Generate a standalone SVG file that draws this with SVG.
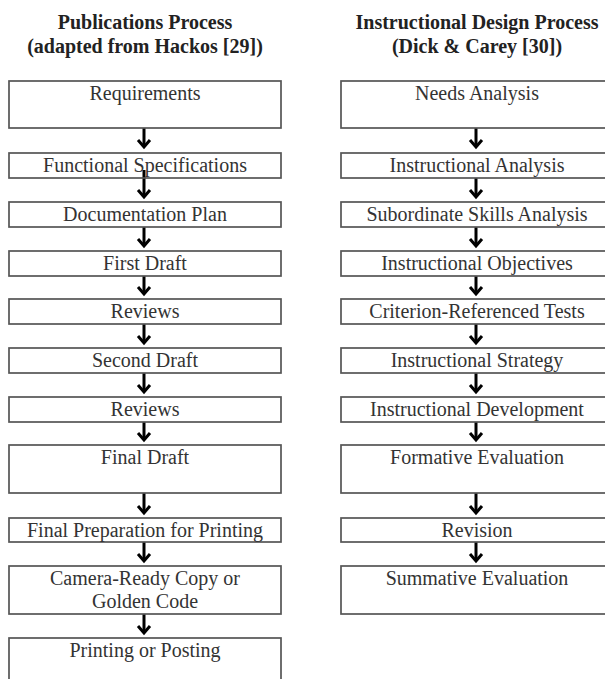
<svg xmlns="http://www.w3.org/2000/svg" width="605" height="679" viewBox="0 0 605 679">
<style>
.bx{fill:#fff;stroke:#555;stroke-width:1.7}
.t{font-family:"Liberation Serif","Times New Roman",serif;font-size:20px;fill:#333;text-anchor:middle}
.h{font-family:"Liberation Serif","Times New Roman",serif;font-size:20px;font-weight:bold;fill:#222;text-anchor:middle}
.ar{stroke:#000;stroke-width:3;fill:none}
</style>
<defs>
<marker id="ah" markerUnits="userSpaceOnUse" viewBox="-10 -8 13 16" refX="0" refY="0" markerWidth="13" markerHeight="16" orient="auto">
<path d="M-7,-6 L0,0 L-7,6" fill="none" stroke="#000" stroke-width="3"/>
</marker>
</defs>
<rect width="605" height="679" fill="#fff"/>
<g id="titles">
<text class="h" x="145" y="29">Publications Process</text>
<text class="h" x="145" y="53">(adapted from Hackos [29])</text>
<text class="h" x="477" y="29">Instructional Design Process</text>
<text class="h" x="477" y="53">(Dick &amp; Carey [30])</text>
</g>
<g id="connectors">
<line class="ar" x1="144" y1="128" x2="144" y2="147" marker-end="url(#ah)"/>
<line class="ar" x1="144" y1="170" x2="144" y2="197" marker-end="url(#ah)"/>
<line class="ar" x1="144" y1="220" x2="144" y2="246" marker-end="url(#ah)"/>
<line class="ar" x1="144" y1="269" x2="144" y2="294" marker-end="url(#ah)"/>
<line class="ar" x1="144" y1="317" x2="144" y2="343" marker-end="url(#ah)"/>
<line class="ar" x1="144" y1="366" x2="144" y2="392" marker-end="url(#ah)"/>
<line class="ar" x1="144" y1="415" x2="144" y2="440" marker-end="url(#ah)"/>
<line class="ar" x1="144" y1="493" x2="144" y2="513" marker-end="url(#ah)"/>
<line class="ar" x1="144" y1="535" x2="144" y2="561" marker-end="url(#ah)"/>
<line class="ar" x1="144" y1="614" x2="144" y2="633" marker-end="url(#ah)"/>
<line class="ar" x1="476" y1="128" x2="476" y2="147" marker-end="url(#ah)"/>
<line class="ar" x1="476" y1="170" x2="476" y2="197" marker-end="url(#ah)"/>
<line class="ar" x1="476" y1="220" x2="476" y2="246" marker-end="url(#ah)"/>
<line class="ar" x1="476" y1="269" x2="476" y2="294" marker-end="url(#ah)"/>
<line class="ar" x1="476" y1="317" x2="476" y2="343" marker-end="url(#ah)"/>
<line class="ar" x1="476" y1="366" x2="476" y2="392" marker-end="url(#ah)"/>
<line class="ar" x1="476" y1="415" x2="476" y2="440" marker-end="url(#ah)"/>
<line class="ar" x1="476" y1="493" x2="476" y2="513" marker-end="url(#ah)"/>
<line class="ar" x1="476" y1="535" x2="476" y2="561" marker-end="url(#ah)"/>
</g>
<g id="n-requirements"><rect class="bx" x="9" y="81" width="272" height="47"/><text class="t" x="145" y="100">Requirements</text></g>
<g id="n-functional"><rect class="bx" x="9" y="153" width="272" height="25" fill-opacity="0"/><text class="t" x="145" y="172">Functional Specifications</text></g>
<g id="n-docplan"><rect class="bx" x="9" y="202" width="272" height="25"/><text class="t" x="145" y="221">Documentation Plan</text></g>
<g id="n-firstdraft"><rect class="bx" x="9" y="251" width="272" height="25"/><text class="t" x="145" y="270">First Draft</text></g>
<g id="n-reviews1"><rect class="bx" x="9" y="299" width="272" height="25"/><text class="t" x="145" y="318">Reviews</text></g>
<g id="n-seconddraft"><rect class="bx" x="9" y="348" width="272" height="25"/><text class="t" x="145" y="367">Second Draft</text></g>
<g id="n-reviews2"><rect class="bx" x="9" y="397" width="272" height="25"/><text class="t" x="145" y="416">Reviews</text></g>
<g id="n-finaldraft"><rect class="bx" x="9" y="445" width="272" height="48"/><text class="t" x="145" y="464">Final Draft</text></g>
<g id="n-finalprep"><rect class="bx" x="9" y="518" width="272" height="24"/><text class="t" x="145" y="537">Final Preparation for Printing</text></g>
<g id="n-camera"><rect class="bx" x="9" y="566" width="272" height="48"/><text class="t" x="145" y="585">Camera-Ready Copy or</text><text class="t" x="145" y="608">Golden Code</text></g>
<g id="n-printing"><rect class="bx" x="9" y="638" width="272" height="60"/><text class="t" x="145" y="657">Printing or Posting</text></g>
<g id="n-needs"><rect class="bx" x="341" y="81" width="272" height="47"/><text class="t" x="477" y="100">Needs Analysis</text></g>
<g id="n-instanalysis"><rect class="bx" x="341" y="153" width="272" height="25"/><text class="t" x="477" y="172">Instructional Analysis</text></g>
<g id="n-subskills"><rect class="bx" x="341" y="202" width="272" height="25"/><text class="t" x="477" y="221">Subordinate Skills Analysis</text></g>
<g id="n-objectives"><rect class="bx" x="341" y="251" width="272" height="25"/><text class="t" x="477" y="270">Instructional Objectives</text></g>
<g id="n-crt"><rect class="bx" x="341" y="299" width="272" height="25"/><text class="t" x="477" y="318">Criterion-Referenced Tests</text></g>
<g id="n-strategy"><rect class="bx" x="341" y="348" width="272" height="25"/><text class="t" x="477" y="367">Instructional Strategy</text></g>
<g id="n-development"><rect class="bx" x="341" y="397" width="272" height="25"/><text class="t" x="477" y="416">Instructional Development</text></g>
<g id="n-formative"><rect class="bx" x="341" y="445" width="272" height="48"/><text class="t" x="477" y="464">Formative Evaluation</text></g>
<g id="n-revision"><rect class="bx" x="341" y="518" width="272" height="24"/><text class="t" x="477" y="537">Revision</text></g>
<g id="n-summative"><rect class="bx" x="341" y="566" width="272" height="48"/><text class="t" x="477" y="585">Summative Evaluation</text></g>
</svg>
